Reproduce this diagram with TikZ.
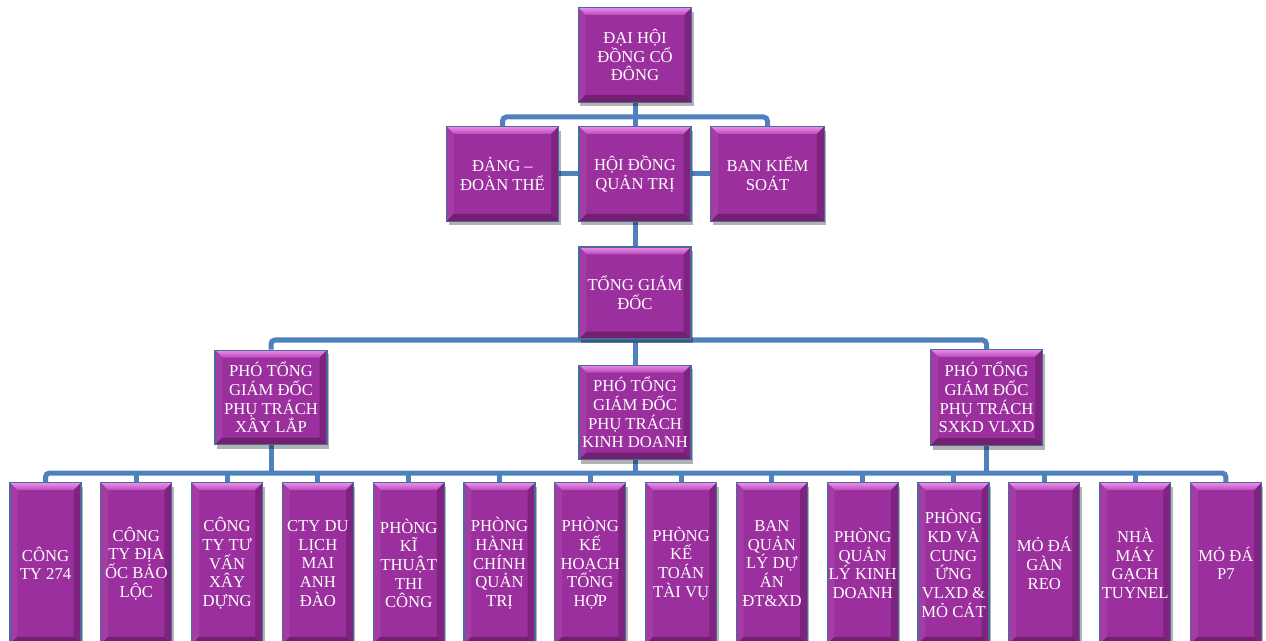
\documentclass[tikz,border=0pt]{standalone}
\usepackage{fontspec}
\setmainfont{Liberation Serif}
\usetikzlibrary{shadows,calc}
\definecolor{boxfill}{HTML}{9C2F9E}
\definecolor{boxedge}{HTML}{4A6A9C}
\definecolor{bevtopc}{HTML}{EA8CEA}
\definecolor{bevtopd}{HTML}{B84AB9}
\definecolor{bevleftc}{HTML}{A43CA6}
\definecolor{bevrightc}{HTML}{7E2480}
\definecolor{bevbotc}{HTML}{72206F}
\definecolor{connc}{HTML}{4F81BD}
\pgfdeclarelayer{bg}
\pgfsetlayers{bg,main}
\def\bvw{5.5pt}
\tikzset{
  box/.style={draw=boxedge, line width=0.9pt, fill=boxfill, text=white, align=center,
    inner sep=1pt, font=\fontsize{12.5pt}{14pt}\selectfont,
    drop shadow={shadow xshift=1.5pt, shadow yshift=-3pt, opacity=0.3, fill=black},
    path picture={
      \path (path picture bounding box.north west) coordinate (pNW)
            (path picture bounding box.north east) coordinate (pNE)
            (path picture bounding box.south west) coordinate (pSW)
            (path picture bounding box.south east) coordinate (pSE);
      \shade[top color=bevtopc, bottom color=bevtopd] (pNW) -- (pNE) -- ([shift={(-\bvw,-\bvw)}]pNE) -- ([shift={(\bvw,-\bvw)}]pNW) -- cycle;
      \fill[bevleftc] (pNW) -- ([shift={(\bvw,-\bvw)}]pNW) -- ([shift={(\bvw,\bvw)}]pSW) -- (pSW) -- cycle;
      \fill[bevrightc] (pNE) -- ([shift={(-\bvw,-\bvw)}]pNE) -- ([shift={(-\bvw,\bvw)}]pSE) -- (pSE) -- cycle;
      \fill[bevbotc] (pSW) -- ([shift={(\bvw,\bvw)}]pSW) -- ([shift={(-\bvw,\bvw)}]pSE) -- (pSE) -- cycle;
    }},
  topbox/.style={box, minimum width=84pt, minimum height=71pt},
  lowbox/.style={box, minimum width=53.25pt, minimum height=121pt},
  conn/.style={draw=connc, line width=3.75pt, rounded corners=3pt},
}
\begin{document}
\begin{tikzpicture}[x=0.75pt, y=-0.75pt]
\clip (0,0) rectangle (1266,641);
% level 1
\node[topbox, minimum width=85pt] (dhd) at (635,55) {ĐẠI HỘI\\ĐỒNG CỔ\\ĐÔNG};
% level 2
\node[topbox] (dang) at (502.5,174) {ĐẢNG –\\ĐOÀN THỂ};
\node[topbox] (hdqt) at (635,174) {HỘI ĐỒNG\\QUẢN TRỊ};
\node[topbox, minimum width=85pt] (bks) at (767.5,174) {BAN KIỂM\\SOÁT};
% level 3
\node[topbox, minimum height=69pt] (tgd) at (635,293) {TỔNG GIÁM\\ĐỐC};
% level 4
\node[topbox] (ptxl) at (271,397.5) {PHÓ TỔNG\\GIÁM ĐỐC\\PHỤ TRÁCH\\XÂY LẮP};
\node[topbox] (ptkd) at (635,412.5) {PHÓ TỔNG\\GIÁM ĐỐC\\PHỤ TRÁCH\\KINH DOANH};
\node[topbox, minimum height=72pt] (ptsx) at (986.5,397.5) {PHÓ TỔNG\\GIÁM ĐỐC\\PHỤ TRÁCH\\SXKD VLXD};
% level 5
\node[lowbox] (c1) at (45.5,563.5) {CÔNG\\TY 274};
\node[lowbox] (c2) at (136.3,563.5) {CÔNG\\TY ĐỊA\\ỐC BẢO\\LỘC};
\node[lowbox] (c3) at (227.1,563.5) {CÔNG\\TY TƯ\\VẤN\\XÂY\\DỰNG};
\node[lowbox] (c4) at (317.9,563.5) {CTY DU\\LỊCH\\MAI\\ANH\\ĐÀO};
\node[lowbox] (c5) at (408.7,563.5) {PHÒNG\\KĨ\\THUẬT\\THI\\CÔNG};
\node[lowbox] (c6) at (499.5,563.5) {PHÒNG\\HÀNH\\CHÍNH\\QUẢN\\TRỊ};
\node[lowbox] (c7) at (590.3,563.5) {PHÒNG\\KẾ\\HOẠCH\\TỔNG\\HỢP};
\node[lowbox] (c8) at (681.1,563.5) {PHÒNG\\KẾ\\TOÁN\\TÀI VỤ};
\node[lowbox] (c9) at (771.9,563.5) {BAN\\QUẢN\\LÝ DỰ\\ÁN\\ĐT\&XD};
\node[lowbox] (c10) at (862.7,563.5) {PHÒNG\\QUẢN\\LÝ KINH\\DOANH};
\node[lowbox] (c11) at (953.5,563.5) {PHÒNG\\KD VÀ\\CUNG\\ỨNG\\VLXD \&\\MỎ CÁT};
\node[lowbox] (c12) at (1044.3,563.5) {MỎ ĐÁ\\GÀN\\REO};
\node[lowbox] (c13) at (1135.1,563.5) {NHÀ\\MÁY\\GẠCH\\TUYNEL};
\node[lowbox] (c14) at (1225.9,563.5) {MỎ ĐÁ\\P7};
% connectors
\coordinate (b1) at (635,117);
\coordinate (b2) at (635,340);
\coordinate (b3) at (635,473);
\begin{pgfonlayer}{bg}
\draw[conn] (dang.north) -- (dang.north |- b1) -- (bks.north |- b1) -- (bks.north);
\draw[conn] (dhd.south) -- (hdqt.north);
\draw[conn] (dang) -- (hdqt);
\draw[conn] (hdqt) -- (bks);
\draw[conn] (hdqt) -- (tgd);
\draw[conn] (tgd) -- (ptkd);
\draw[conn] (ptxl.north) -- (ptxl.north |- b2) -- (ptsx.north |- b2) -- (ptsx.north);
\draw[conn] (ptxl) -- (ptxl |- b3);
\draw[conn] (ptkd) -- (ptkd |- b3);
\draw[conn] (ptsx) -- (ptsx |- b3);
\draw[conn] (c1.north) -- (c1.north |- b3) -- (c14.north |- b3) -- (c14.north);
\foreach \i in {2,...,13}{\draw[conn] (c\i.north) -- (c\i.north |- b3);}
\end{pgfonlayer}
\end{tikzpicture}
\end{document}
